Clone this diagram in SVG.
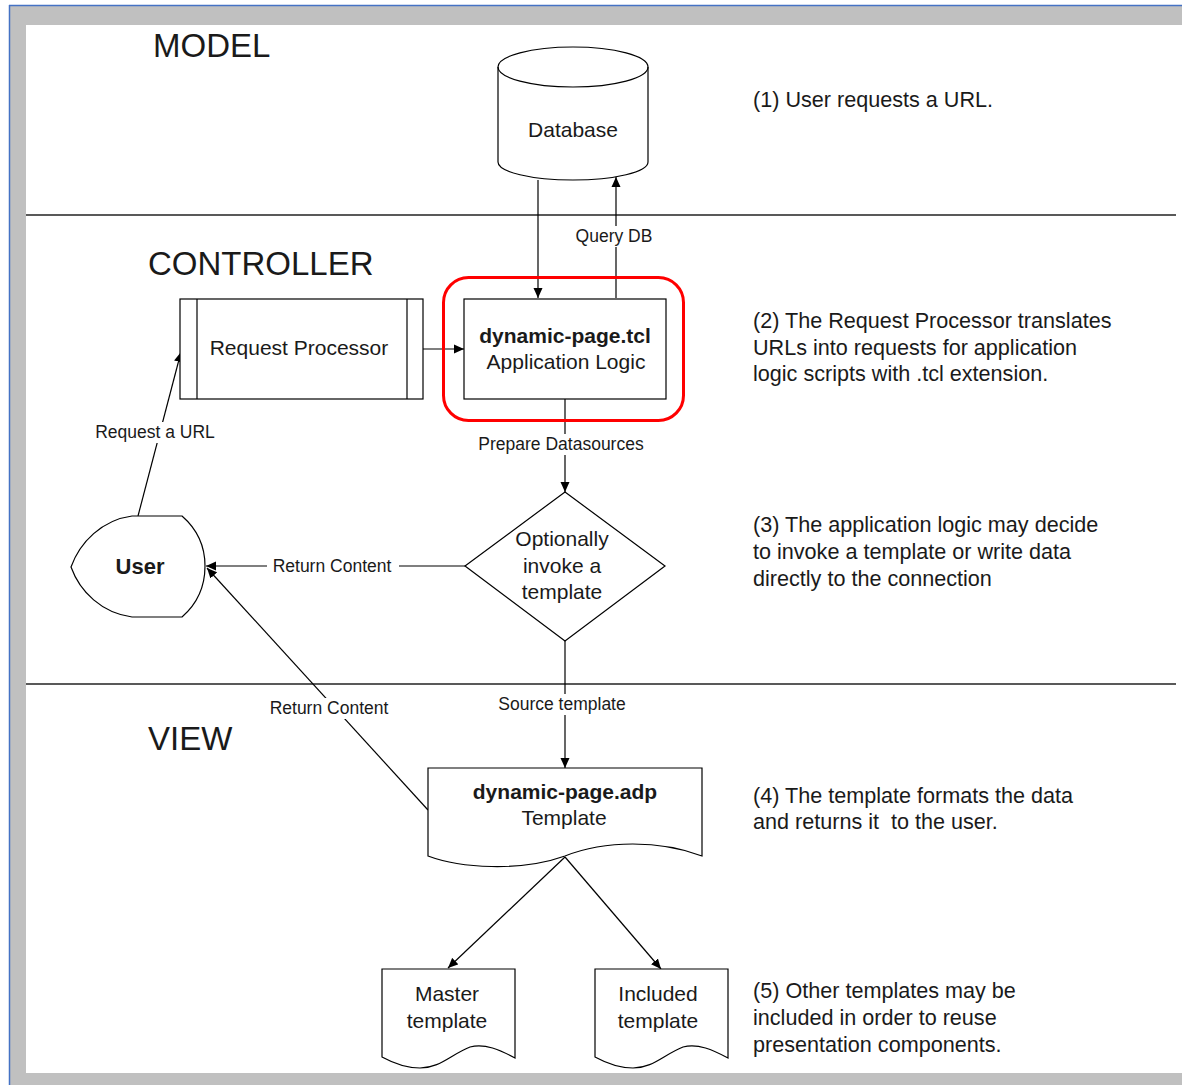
<svg xmlns="http://www.w3.org/2000/svg" width="1182" height="1085" viewBox="0 0 1182 1085">
<defs>
<marker id="ah" viewBox="0 0 10 10" refX="10" refY="5" markerWidth="10" markerHeight="10" markerUnits="userSpaceOnUse" orient="auto">
<path d="M0,0.5 L10,5 L0,9.5 Z" fill="#000"/>
</marker>
<style>
text{font-family:"Liberation Sans",Arial,sans-serif;fill:#1a1a1a}
.big{font-size:33px}
.main{font-size:21px;text-anchor:middle}
.bold{font-weight:bold}
.lab{font-size:17.5px;text-anchor:middle}
.note{font-size:21.6px}
.shape{fill:#fff;stroke:#000;stroke-width:1.2}
.conn{fill:none;stroke:#000;stroke-width:1.2}
.bg{fill:#fff}
</style>
</defs>
<rect x="0" y="0" width="1182" height="1085" fill="#fff"/>
<rect x="10" y="6" width="1172" height="1079" fill="#c0c0c0"/>
<line x1="9.5" y1="5" x2="9.5" y2="1085" stroke="#4472c4" stroke-width="1.5"/>
<line x1="9" y1="5.5" x2="1182" y2="5.5" stroke="#4472c4" stroke-width="1.5"/>
<rect x="26" y="25" width="1156" height="1048" fill="#fff"/>
<line x1="26" y1="215" x2="1176" y2="215" stroke="#222" stroke-width="1.5"/>
<line x1="26" y1="684" x2="1176" y2="684" stroke="#222" stroke-width="1.5"/>
<text class="big" x="153" y="57">MODEL</text>
<text class="big" x="148" y="275">CONTROLLER</text>
<text class="big" x="148" y="750">VIEW</text>

<g id="connectors">
<line class="conn" x1="538" y1="180" x2="538" y2="298" marker-end="url(#ah)"/>
<line class="conn" x1="616" y1="298" x2="616" y2="177" marker-end="url(#ah)"/>
<line class="conn" x1="423" y1="349" x2="464" y2="349" marker-end="url(#ah)"/>
<line class="conn" x1="565" y1="399" x2="565" y2="492" marker-end="url(#ah)"/>
<line class="conn" x1="465" y1="566" x2="206" y2="566" marker-end="url(#ah)"/>
<line class="conn" x1="428" y1="810" x2="207" y2="568" marker-end="url(#ah)"/>
<line class="conn" x1="138" y1="516" x2="181" y2="352" marker-end="url(#ah)"/>
<line class="conn" x1="565" y1="641" x2="565" y2="768" marker-end="url(#ah)"/>
<line class="conn" x1="565" y1="857" x2="448" y2="968" marker-end="url(#ah)"/>
<line class="conn" x1="565" y1="857" x2="661" y2="969" marker-end="url(#ah)"/>
<rect class="bg" x="572" y="226" width="84" height="21"/>
<text class="lab" x="614" y="242">Query DB</text>
<rect class="bg" x="474" y="434" width="176" height="21"/>
<text class="lab" x="561" y="450">Prepare Datasources</text>
<rect class="bg" x="92" y="422" width="128" height="21"/>
<text class="lab" x="155" y="438">Request a URL</text>
<rect class="bg" x="267" y="556" width="132" height="21"/>
<text class="lab" x="332" y="572">Return Content</text>
<rect class="bg" x="265" y="698" width="128" height="21"/>
<text class="lab" x="329" y="714">Return Content</text>
<rect class="bg" x="493" y="694" width="138" height="21"/>
<text class="lab" x="562" y="710">Source template</text>
</g>

<g id="database">
<path class="shape" d="M498,67 L498,162 A75,18 0 0 0 648,162 L648,67 A75,20 0 0 0 498,67 Z"/>
<path class="conn" d="M498,67 A75,20 0 0 0 648,67"/>
<text class="main" x="573" y="137">Database</text>
</g>

<g id="request-processor">
<rect class="shape" x="180" y="299" width="243" height="100"/>
<line class="conn" x1="197" y1="299" x2="197" y2="399"/>
<line class="conn" x1="407" y1="299" x2="407" y2="399"/>
<text class="main" x="299" y="355">Request Processor</text>
</g>

<g id="app-logic">
<rect x="443.5" y="277.5" width="240" height="143" rx="25" fill="none" stroke="#f00" stroke-width="3"/>
<rect class="shape" x="464" y="299" width="202" height="100"/>
<text class="main bold" x="565" y="343">dynamic-page.tcl</text>
<text class="main" x="566" y="369">Application Logic</text>
</g>

<g id="user">
<path class="shape" d="M132,516 L182,516 Q205,536 205,566 Q205,597 182,617 L132,617 C102,613 80,592 71,567 C80,542 102,520 132,516 Z"/>
<text class="main bold" x="140" y="574" style="font-size:22px">User</text>
</g>

<g id="decision">
<path class="shape" d="M565,492 L665,566 L565,641 L465,566 Z"/>
<text class="main" x="562" y="546">Optionally</text>
<text class="main" x="562" y="573">invoke a</text>
<text class="main" x="562" y="599">template</text>
</g>

<g id="template">
<path class="shape" d="M428,768 L702,768 L702,856 C660,840 605,840 565,856 C520,872 460,868 428,856 Z"/>
<text class="main bold" x="565" y="799">dynamic-page.adp</text>
<text class="main" x="564" y="825">Template</text>
</g>

<g id="master-template">
<path class="shape" d="M382,969 L515,969 L515,1058 C500,1050 485,1043 470,1047 C450,1055 440,1068 420,1068 C405,1068 393,1063 382,1057 Z"/>
<text class="main" x="447" y="1001">Master</text>
<text class="main" x="447" y="1028">template</text>
</g>

<g id="included-template">
<path class="shape" d="M595,969 L728,969 L728,1058 C713,1050 698,1043 683,1047 C663,1055 653,1068 633,1068 C618,1068 606,1063 595,1057 Z"/>
<text class="main" x="658" y="1001">Included</text>
<text class="main" x="658" y="1028">template</text>
</g>

<g id="notes">
<text class="note" x="753" y="107">(1) User requests a URL.</text>
<text class="note" x="753" y="328">(2) The Request Processor translates</text>
<text class="note" x="753" y="355">URLs into requests for application</text>
<text class="note" x="753" y="381">logic scripts with .tcl extension.</text>
<text class="note" x="753" y="532">(3) The application logic may decide</text>
<text class="note" x="753" y="559">to invoke a template or write data</text>
<text class="note" x="753" y="586">directly to the connection</text>
<text class="note" x="753" y="803">(4) The template formats the data</text>
<text class="note" x="753" y="829" xml:space="preserve">and returns it  to the user.</text>
<text class="note" x="753" y="998">(5) Other templates may be</text>
<text class="note" x="753" y="1025">included in order to reuse</text>
<text class="note" x="753" y="1052">presentation components.</text>
</g>
</svg>
